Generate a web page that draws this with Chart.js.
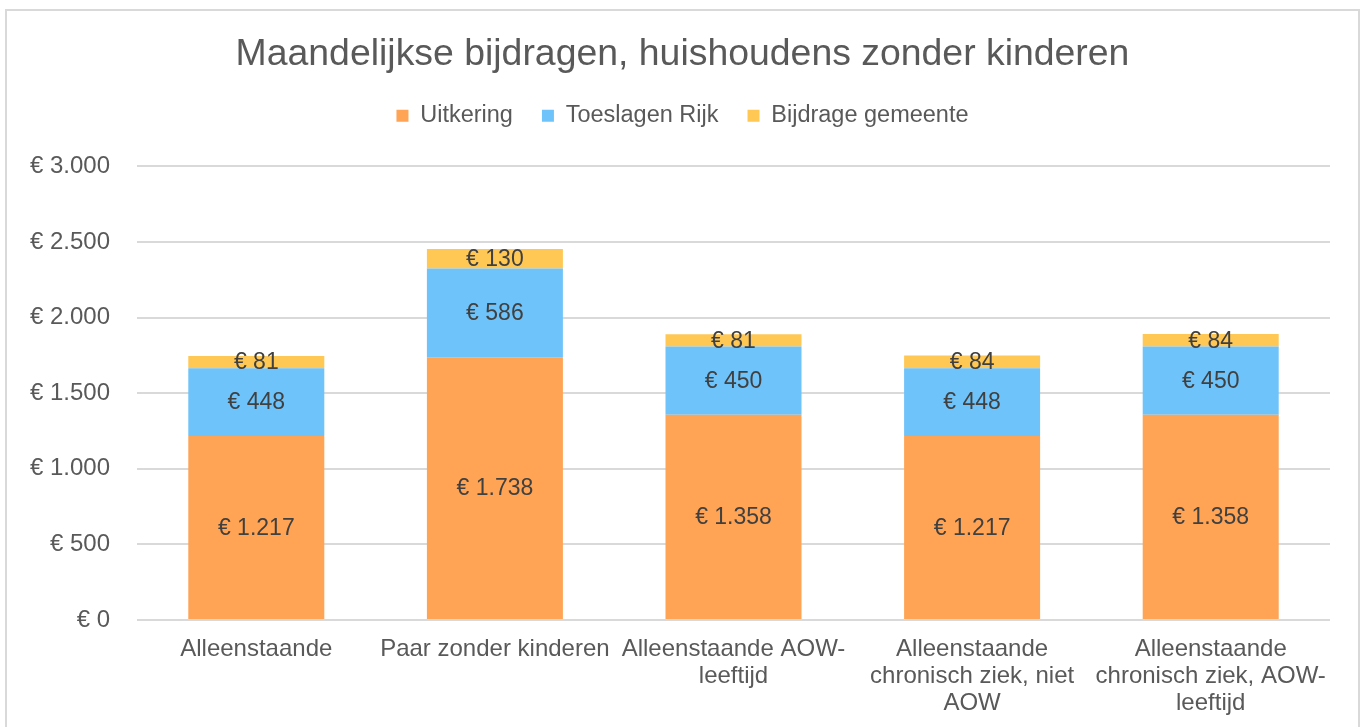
<!DOCTYPE html>
<html>
<head>
<meta charset="utf-8">
<script src="https://cdn.jsdelivr.net/npm/chart.js@4"></script>
<style>
  body { margin: 0; background: #fff; overflow: hidden; }
  #box { position: absolute; left: 5px; top: 9px; width: 1351px; height: 740px; border: 2px solid #d9d9d9; }
  #wrap { position: absolute; left: 0; top: 0; width: 1351px; height: 716px; }
</style>
</head>
<body>
<div id="box"><div id="wrap"><canvas id="chart"></canvas></div></div>
<script>
const categories = [
  'Alleenstaande',
  'Paar zonder kinderen',
  ['Alleenstaande AOW-', 'leeftijd'],
  ['Alleenstaande', 'chronisch ziek, niet', 'AOW'],
  ['Alleenstaande', 'chronisch ziek, AOW-', 'leeftijd']
];
const uitkering = [1217, 1738, 1358, 1217, 1358];
const toeslagenRijk = [448, 586, 450, 448, 450];
const bijdrageGemeente = [81, 130, 81, 84, 84];
const yTicks = [0, 500, 1000, 1500, 2000, 2500, 3000];

const textColor = '#595959';
const fontFamily = '"Liberation Sans", Arial, sans-serif';

function euro(v) {
  return '€ ' + String(v).replace(/\B(?=(\d{3})+(?!\d))/g, '.');
}

// draws the value in the middle of each bar segment
const barLabels = {
  id: 'barLabels',
  afterDatasetsDraw(chart) {
    const ctx = chart.ctx;
    ctx.save();
    ctx.font = '23px ' + fontFamily;
    ctx.fillStyle = '#404040';
    ctx.textAlign = 'center';
    ctx.textBaseline = 'middle';
    chart.data.datasets.forEach((ds, i) => {
      chart.getDatasetMeta(i).data.forEach((bar, j) => {
        ctx.fillText(euro(ds.data[j]), bar.x, (bar.y + bar.base) / 2 + 1);
      });
    });
    ctx.restore();
  }
};

// extra room under the legend
const legendGap = {
  id: 'legendGap',
  beforeInit(chart) {
    const fit = chart.legend.fit;
    chart.legend.fit = function () {
      fit.bind(chart.legend)();
      this.height += 29;
    };
  }
};

new Chart(document.getElementById('chart'), {
  type: 'bar',
  data: {
    labels: categories,
    datasets: [
      { label: 'Uitkering', data: uitkering, backgroundColor: '#ffa354' },
      { label: 'Toeslagen Rijk', data: toeslagenRijk, backgroundColor: '#6ec3fa' },
      { label: 'Bijdrage gemeente', data: bijdrageGemeente, backgroundColor: '#ffc854' }
    ]
  },
  plugins: [barLabels, legendGap],
  options: {
    responsive: true,
    maintainAspectRatio: false,
    animation: false,
    layout: { padding: 0 },
    datasets: { bar: { categoryPercentage: 1, barPercentage: 0.57 } },
    plugins: {
      title: {
        display: true,
        text: 'Maandelijkse bijdragen, huishoudens zonder kinderen',
        color: textColor,
        font: { family: fontFamily, size: 37.4, weight: 'normal' },
        padding: { top: 21, bottom: -2 }
      },
      legend: {
        position: 'top',
        labels: {
          color: textColor,
          font: { family: fontFamily, size: 23.5 },
          boxWidth: 12,
          boxHeight: 12,
          padding: 29
        }
      },
      tooltip: { enabled: false }
    },
    scales: {
      x: {
        stacked: true,
        grid: { display: false },
        border: { display: false },
        ticks: {
          color: textColor,
          font: { family: fontFamily, size: 24, lineHeight: 1.125 },
          padding: 8,
          maxRotation: 0,
          autoSkip: false
        },
        afterFit(scale) { scale.height = 107; }
      },
      y: {
        stacked: true,
        min: 0,
        max: 3000,
        afterBuildTicks(scale) { scale.ticks = yTicks.map(v => ({ value: v })); },
        grid: { color: '#d9d9d9', lineWidth: 2, drawTicks: false },
        border: { display: false },
        ticks: {
          color: textColor,
          font: { family: fontFamily, size: 24 },
          padding: 27,
          callback: v => euro(v)
        },
        afterFit(scale) { scale.width = 130; }
      },
      // empty right axis, only keeps the plot away from the right border
      spacer: {
        position: 'right',
        grid: { display: false },
        border: { display: false },
        ticks: { display: false },
        afterFit(scale) { scale.width = 28; }
      }
    }
  }
});
</script>
</body>
</html>
